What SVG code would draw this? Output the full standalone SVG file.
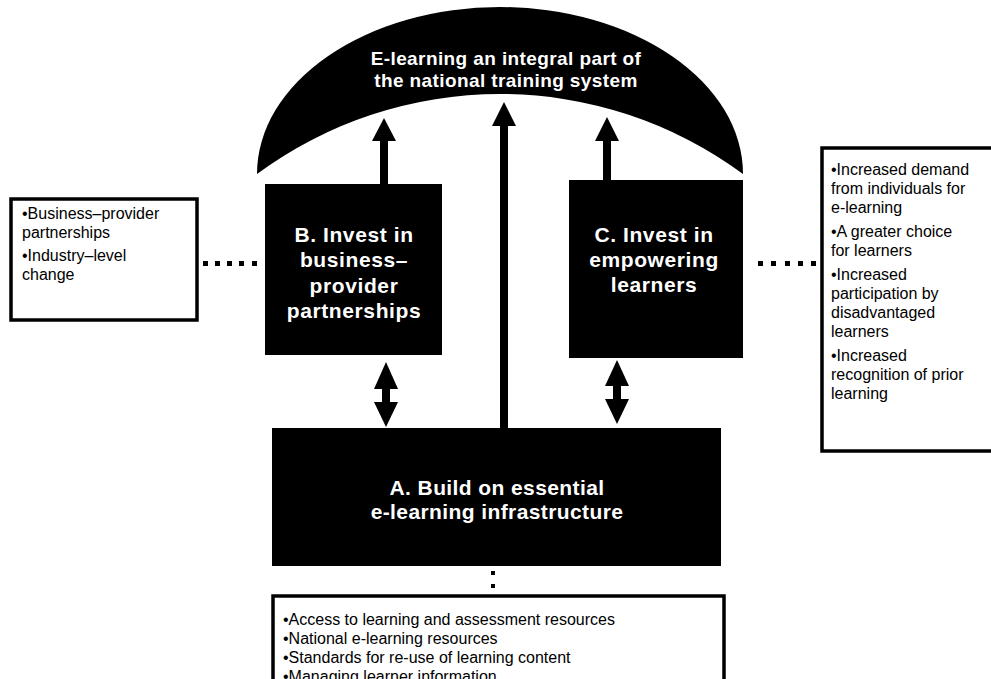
<svg xmlns="http://www.w3.org/2000/svg" width="991" height="679" viewBox="0 0 991 679">
  <style>
    .blk { fill: #000; }
    .frame { fill: #fff; stroke: #000; stroke-width: 3.5; }
    .head { font-family: "Liberation Sans", Arial, sans-serif; font-weight: bold; fill: #fff; text-anchor: middle; }
    .note { font-family: "Liberation Sans", Arial, sans-serif; font-size: 16px; fill: #000; }
  </style>

  <rect width="991" height="679" fill="#fff"/>

  <!-- goal: dome across the top -->
  <g id="goal">
    <path class="blk" d="M257,174 A243,167 0 0 1 743,174 A409,409 0 0 0 257,174 Z"/>
    <text class="head" font-size="19" letter-spacing="0.4" x="506" y="65">E-learning an integral part of</text>
    <text class="head" font-size="19" letter-spacing="0.4" x="506" y="87">the national training system</text>
  </g>

  <!-- B -->
  <g id="node-b">
    <rect class="blk" x="265" y="184" width="177" height="171"/>
    <text class="head" font-size="21" letter-spacing="0.6" x="354" y="242">B. Invest in</text>
    <text class="head" font-size="21" letter-spacing="0.6" x="354" y="267">business–</text>
    <text class="head" font-size="21" letter-spacing="0.6" x="354" y="293">provider</text>
    <text class="head" font-size="21" letter-spacing="0.6" x="354" y="318">partnerships</text>
  </g>

  <!-- C -->
  <g id="node-c">
    <rect class="blk" x="569" y="180" width="174" height="178"/>
    <text class="head" font-size="21" letter-spacing="0.6" x="654" y="242">C. Invest in</text>
    <text class="head" font-size="21" letter-spacing="0.6" x="654" y="267">empowering</text>
    <text class="head" font-size="21" letter-spacing="0.6" x="654" y="292">learners</text>
  </g>

  <!-- A -->
  <g id="node-a">
    <rect class="blk" x="272" y="428" width="449" height="138"/>
    <text class="head" font-size="21" letter-spacing="0.4" x="497" y="495">A. Build on essential</text>
    <text class="head" font-size="21" letter-spacing="0.4" x="497" y="519">e-learning infrastructure</text>
  </g>

  <!-- outcomes of B -->
  <g id="note-b">
    <rect class="frame" x="11" y="199" width="186" height="121"/>
    <text class="note" x="22" y="219">•Business–provider</text>
    <text class="note" x="22" y="238">partnerships</text>
    <text class="note" x="22" y="261">•Industry–level</text>
    <text class="note" x="22" y="280">change</text>
  </g>

  <!-- outcomes of C -->
  <g id="note-c">
    <rect class="frame" x="822" y="148" width="180" height="303"/>
    <text class="note" x="831" y="175">•Increased demand</text>
    <text class="note" x="831" y="194">from individuals for</text>
    <text class="note" x="831" y="213">e-learning</text>
    <text class="note" x="831" y="237">•A greater choice</text>
    <text class="note" x="831" y="256">for learners</text>
    <text class="note" x="831" y="280">•Increased</text>
    <text class="note" x="831" y="299">participation by</text>
    <text class="note" x="831" y="318">disadvantaged</text>
    <text class="note" x="831" y="337">learners</text>
    <text class="note" x="831" y="361">•Increased</text>
    <text class="note" x="831" y="380">recognition of prior</text>
    <text class="note" x="831" y="399">learning</text>
  </g>

  <!-- components of A -->
  <g id="note-a">
    <rect class="frame" x="273" y="596" width="451" height="100"/>
    <text class="note" x="283" y="625">•Access to learning and assessment resources</text>
    <text class="note" x="283" y="644">•National e-learning resources</text>
    <text class="note" x="283" y="663">•Standards for re-use of learning content</text>
    <text class="note" x="283" y="682">•Managing learner information</text>
  </g>

  <!-- connectors -->
  <g id="connectors" class="blk">
    <!-- B up to goal -->
    <rect x="380" y="139" width="8" height="46"/>
    <polygon points="372,141 384,118 396,141"/>
    <!-- A up to goal -->
    <rect x="500" y="124" width="8" height="305"/>
    <polygon points="492,126 504,102 516,126"/>
    <!-- C up to goal -->
    <rect x="603" y="139" width="8" height="42"/>
    <polygon points="595,141 607,117 619,141"/>
    <!-- B <-> A -->
    <rect x="382" y="387" width="8" height="17"/>
    <polygon points="374,389 386,362 398,389"/>
    <polygon points="374,402 386,427 398,402"/>
    <!-- C <-> A -->
    <rect x="613" y="384" width="8" height="17"/>
    <polygon points="605,386 617,360 629,386"/>
    <polygon points="605,399 617,424 629,399"/>
    <!-- dotted links to outcome boxes -->
    <rect x="203" y="261" width="5" height="5"/>
    <rect x="215" y="261" width="5" height="5"/>
    <rect x="227" y="261" width="5" height="5"/>
    <rect x="239" y="261" width="5" height="5"/>
    <rect x="252" y="261" width="5" height="5"/>
    <rect x="758" y="261" width="5" height="5"/>
    <rect x="771" y="261" width="5" height="5"/>
    <rect x="785" y="261" width="5" height="5"/>
    <rect x="798" y="261" width="5" height="5"/>
    <rect x="811" y="261" width="5" height="5"/>
    <!-- A to its components -->
    <rect x="491" y="571" width="4" height="4"/>
    <rect x="491" y="584" width="4" height="4"/>
  </g>
</svg>
